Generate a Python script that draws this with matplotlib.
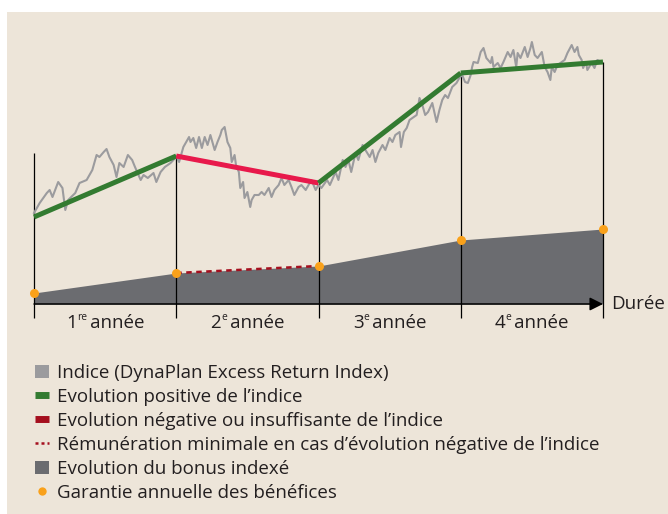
import matplotlib
matplotlib.use("Agg")
import matplotlib.pyplot as plt
import matplotlib.transforms as mtransforms
from matplotlib.patches import Rectangle, Patch
from matplotlib.lines import Line2D

# --- data (years on x, index level on y) ---
years = [0, 1, 2, 3, 4]
trend = [87, 148, 121, 231, 242]          # yearly index evolution (green / red)
bonus = [11, 31, 38, 64, 75]              # indexed bonus, annual guarantee dots
year_nums = ["1", "2", "3", "4"]
year_sups = ["re", "e", "e", "e"]

index_t = [0.00, 0.04, 0.09, 0.11, 0.13, 0.17, 0.20, 0.22, 0.24, 0.29, 0.32, 0.37,
           0.41, 0.44, 0.46, 0.49, 0.51, 0.53, 0.56, 0.58, 0.60, 0.63, 0.66, 0.69,
           0.71, 0.75, 0.77, 0.80, 0.84, 0.86, 0.89, 0.92, 0.96, 0.98, 1.00,
           1.02, 1.05, 1.09, 1.10, 1.12, 1.14, 1.16, 1.18, 1.20, 1.22, 1.24, 1.27,
           1.29, 1.31, 1.32, 1.34, 1.36, 1.38, 1.39, 1.41, 1.42, 1.44, 1.45, 1.47,
           1.48, 1.50, 1.52, 1.53, 1.55, 1.58, 1.60, 1.62, 1.65, 1.67, 1.69, 1.72,
           1.74, 1.76, 1.79, 1.81, 1.83, 1.86, 1.88, 1.91, 1.93, 1.95, 1.98, 2.00,
           2.02, 2.06, 2.08, 2.12, 2.14, 2.17, 2.19, 2.21, 2.23, 2.26, 2.28, 2.31,
           2.33, 2.36, 2.38, 2.40, 2.42, 2.45, 2.47, 2.50, 2.52, 2.54, 2.57, 2.58,
           2.60, 2.62, 2.64, 2.67, 2.69, 2.71, 2.73, 2.75, 2.77, 2.80, 2.83, 2.85,
           2.87, 2.89, 2.91, 2.94, 2.97, 2.99, 3.01,
           3.03, 3.05, 3.07, 3.08, 3.09, 3.12, 3.14, 3.16, 3.18, 3.21, 3.22, 3.23,
           3.26, 3.28, 3.30, 3.33, 3.35, 3.37, 3.39, 3.40, 3.42, 3.45, 3.47, 3.49,
           3.50, 3.52, 3.54, 3.57, 3.59, 3.61, 3.63, 3.64, 3.66, 3.68, 3.71, 3.73,
           3.75, 3.78, 3.80, 3.82, 3.83, 3.85, 3.86, 3.88, 3.89, 3.92, 3.94, 3.96,
           3.99]
index_v = [91, 101, 111, 114, 107, 122, 116, 94, 104, 111, 121, 124,
           134, 149, 147, 152, 155, 147, 139, 127, 141, 137, 149, 144,
           137, 124, 129, 126, 131, 122, 132, 137, 141, 144, 148,
           142, 157, 167, 162, 166, 156, 167, 156, 167, 159, 169, 154,
           162, 169, 174, 177, 162, 156, 142, 149, 139, 132, 116, 122,
           106, 112, 97, 104, 109, 109, 112, 109, 116, 107, 114, 119,
           126, 119, 124, 117, 109, 117, 119, 114, 119, 124, 114, 119,
           116, 124, 119, 132, 124, 144, 137, 144, 132, 151, 144, 159,
           154, 147, 154, 142, 151, 159, 154, 166, 162, 169, 172, 157,
           172, 176, 184, 187, 189, 206, 199, 189, 192, 201, 182, 194,
           204, 209, 206, 217, 221, 226, 229,
           222, 221, 229, 237, 242, 241, 252, 256, 246, 241, 247, 237,
           241, 236, 242, 252, 247, 254, 237, 251, 246, 257, 247, 256,
           262, 249, 246, 252, 237, 232, 224, 237, 232, 239, 242, 244,
           251, 259, 252, 257, 249, 244, 236, 242, 234, 241, 236, 244,
           242]

legend_labels = [
    "Indice (DynaPlan Excess Return Index)",
    "Evolution positive de l\u2019indice",
    "Evolution négative ou insuffisante de l\u2019indice",
    "Rémunération minimale en cas d\u2019évolution négative de l\u2019indice",
    "Evolution du bonus indexé",
    "Garantie annuelle des bénéfices",
]

# --- colours ---
beige = "#ede5d9"
c_index = "#9b9b9e"
c_green = "#337b31"
c_red = "#e8194b"
c_dark_red = "#a50f1e"
c_fill = "#6b6c70"
c_orange = "#f9a11b"
c_text = "#231f20"

plt.rcParams["font.family"] = ["Open Sans", "DejaVu Sans"]
fs = 13.5

fig = plt.figure(figsize=(6.68, 5.14), dpi=100, facecolor="white")
fig.add_artist(Rectangle((7 / 668, 0), 1, 502 / 514, transform=fig.transFigure,
                         facecolor=beige, edgecolor="none", zorder=-5))

ax = fig.add_axes([0, 0, 1, 1], zorder=1)
ax.patch.set_visible(False)
ax.set_xlim(-34 / 142.25, 634 / 142.25)
ax.set_ylim(-210, 304)
ax.axis("off")

# indexed bonus area
ax.fill_between(years, bonus, 0, color=c_fill, lw=0, zorder=1)
# minimum remuneration during the negative year
ax.plot(years[1:3], bonus[1:3], color=c_dark_red, lw=1.8, ls=(0, (2.2, 1.8)), zorder=3)

# year separators
ax.vlines(years[0], -14, 151, color="black", lw=0.9, zorder=2)
ax.vlines(years[1:], -14, trend[1:], color="black", lw=0.9, zorder=2)

# time axis with arrow
ax.annotate("", xy=(years[-1], 0), xytext=(years[0], 0),
            arrowprops=dict(arrowstyle="-|>", color="black", lw=1.1,
                            mutation_scale=20, shrinkA=0, shrinkB=0), zorder=4)
ax.text(years[-1] + 0.06, 0, "Durée", fontsize=fs, color=c_text,
        ha="left", va="center")

# index path
ax.plot(index_t, index_v, color=c_index, lw=1.5, zorder=2)

# yearly evolution segments
for i in range(4):
    col = c_green if trend[i + 1] >= trend[i] else c_red
    ax.plot(years[i:i + 2], trend[i:i + 2], color=col, lw=3.6,
            solid_capstyle="butt", zorder=3)

# annual guarantee dots
ax.plot(years, bonus, "o", color=c_orange, ms=6.5, mec="none", zorder=5)

# year labels: number + small superscript + " année", centred in each year
renderer = fig.canvas.get_renderer()
for i in range(4):
    parts = [(year_nums[i], fs, 0), (year_sups[i], fs * 0.55, 5.5), ("\u2009année", fs, 0)]
    texts = []
    for s, size, rise in parts:
        t = ax.text(0, 0, s, fontsize=size, color=c_text, ha="left", va="baseline")
        texts.append((t, rise))
    widths = [t.get_window_extent(renderer).width * 72 / fig.dpi for t, _ in texts]
    x0 = -sum(widths) / 2
    for (t, rise), w in zip(texts, widths):
        t.set_position((years[i] + 0.5, -24))
        t.set_transform(mtransforms.offset_copy(ax.transData, fig=fig, x=x0, y=rise,
                                                units="points"))
        x0 += w

handles = [
    Patch(facecolor=c_index, edgecolor="none"),
    Line2D([], [], color=c_green, lw=5, solid_capstyle="butt"),
    Line2D([], [], color=c_dark_red, lw=5, solid_capstyle="butt"),
    Line2D([], [], color=c_dark_red, lw=1.8, ls=(0, (1.2, 1.2))),
    Patch(facecolor=c_fill, edgecolor="none"),
    Line2D([], [], color=c_orange, marker="o", ms=6, ls="none", mec="none"),
]
leg = ax.legend(handles, legend_labels, loc="upper left",
                bbox_to_anchor=(35 / 668, 1 - 364 / 514), bbox_transform=fig.transFigure,
                frameon=False, fontsize=fs, handlelength=0.75, handleheight=0.75,
                handletextpad=0.42, labelspacing=0.32, borderpad=0, borderaxespad=0)
for t in leg.get_texts():
    t.set_color(c_text)

fig.savefig("out.png", dpi=100, facecolor="white")
